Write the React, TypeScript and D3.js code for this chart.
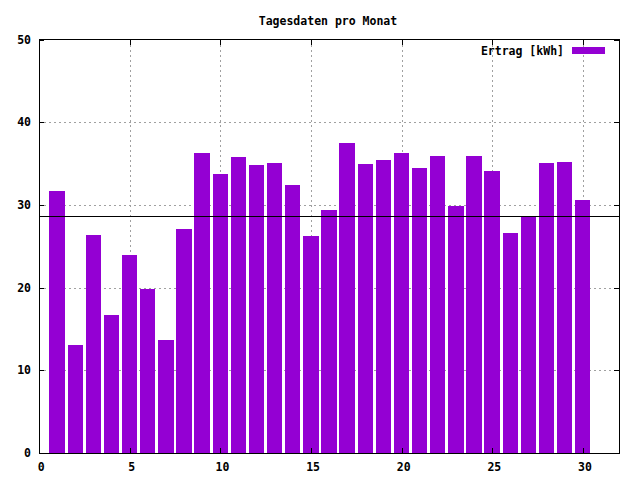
import React from "react";
import * as d3 from "d3";

const days = [1,2,3,4,5,6,7,8,9,10,11,12,13,14,15,16,17,18,19,20,21,22,23,24,25,26,27,28,29,30];
const ertrag = [31.67,13.05,26.35,16.68,23.93,19.82,13.66,27.07,36.26,33.72,35.77,34.81,35.05,32.39,26.23,29.37,37.47,34.93,35.41,36.26,34.44,35.9,29.85,35.9,34.08,26.59,28.52,35.05,35.17,30.58];
const meanValue = 28.6;
const xTicks = [0,5,10,15,20,25,30];
const yTicks = [0,10,20,30,40,50];
const title = "Tagesdaten pro Monat";
const legendLabel = "Ertrag [kWh]";

const W = 640, H = 480;
const L = 39, R = 619, T = 39.5, B = 453;
const FONT = "'DejaVu Sans Mono', 'Liberation Mono', monospace";
const COLOR = "#9400d3";

export default function App() {
  const x = d3.scaleLinear().domain([0, 32]).range([L, R]);
  const y = d3.scaleLinear().domain([0, 50]).range([B, T]);
  const bw = (x(0.85) - x(0));
  const tl = 5;
  return (
    <svg width={W} height={H} style={{ position: "absolute", left: 0, top: 0, background: "#fff" }} shapeRendering="crispEdges">
      <rect x={0} y={0} width={W} height={H} fill="#fff" />
      {xTicks.filter(t => t > 0).map(t => (
        <line key={"gx" + t} x1={Math.round(x(t)) + 0.5} x2={Math.round(x(t)) + 0.5} y1={T} y2={B} stroke="#a0a0a0" strokeDasharray="2,3" />
      ))}
      {yTicks.filter(t => t > 0 && t < 50).map(t => (
        <line key={"gy" + t} x1={L} x2={R} y1={Math.round(y(t)) + 0.5} y2={Math.round(y(t)) + 0.5} stroke="#a0a0a0" strokeDasharray="2,3" />
      ))}
      {days.map((d, i) => (
        <rect key={"b" + d} x={x(d) - bw / 2} y={y(ertrag[i])} width={bw} height={y(0) - y(ertrag[i])} fill={COLOR} />
      ))}
      <line x1={L} x2={R} y1={Math.round(y(meanValue)) + 0.5} y2={Math.round(y(meanValue)) + 0.5} stroke="#000" strokeWidth={1} />
      <rect x={L + 0.5} y={T} width={R - L - 0.5} height={B - T} fill="none" stroke="#000" strokeWidth={1} />
      {yTicks.map(t => (
        <g key={"ty" + t}>
          <line x1={L} x2={L + tl} y1={Math.round(y(t)) + 0.5} y2={Math.round(y(t)) + 0.5} stroke="#000" />
          <line x1={R - tl} x2={R} y1={Math.round(y(t)) + 0.5} y2={Math.round(y(t)) + 0.5} stroke="#000" />
          <text x={31} y={y(t)} dy="0.35em" textAnchor="end" fontFamily={FONT} fontWeight="bold" fontSize={11.5}>{t}</text>
        </g>
      ))}
      {xTicks.map(t => (
        <g key={"tx" + t}>
          <line x1={Math.round(x(t)) + 0.5} x2={Math.round(x(t)) + 0.5} y1={B} y2={B - tl} stroke="#000" />
          <line x1={Math.round(x(t)) + 0.5} x2={Math.round(x(t)) + 0.5} y1={T} y2={T + tl} stroke="#000" />
          <text x={x(t) + 2.2} y={467} dy="0.35em" textAnchor="middle" fontFamily={FONT} fontWeight="bold" fontSize={11.5}>{t}</text>
        </g>
      ))}
      <text x={328} y={21} dy="0.35em" textAnchor="middle" fontFamily={FONT} fontWeight="bold" fontSize={11.5}>{title}</text>
      <text x={564} y={51} dy="0.35em" textAnchor="end" fontFamily={FONT} fontWeight="bold" fontSize={11.5}>{legendLabel}</text>
      <rect x={572} y={46.5} width={33} height={7.5} fill={COLOR} />
    </svg>
  );
}
